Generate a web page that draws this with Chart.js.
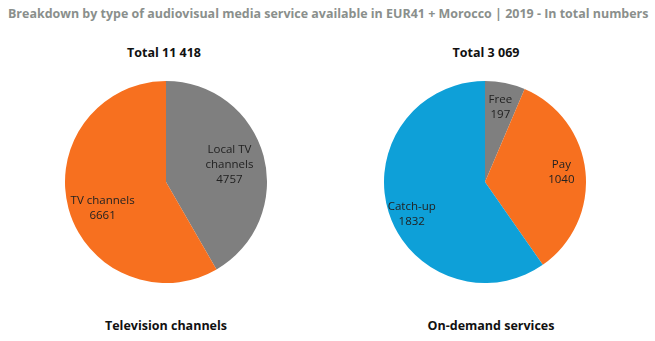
<!DOCTYPE html>
<html>
<head>
<meta charset="utf-8">
<script src="https://cdn.jsdelivr.net/npm/chart.js@4/dist/chart.umd.min.js"></script>
<style>
  body { margin: 0; background: #fff; width: 655px; height: 341px; position: relative; overflow: hidden; }
  .txt { position: absolute; white-space: nowrap; }
  #main-title { left: 8px; top: 4px; font: bold 13px "Open Sans", sans-serif; color: #8a8f8c; transform-origin: 0 0; }
  .total, .caption { font: bold 12.5px "Open Sans", sans-serif; color: #111; transform: translateX(-50%); }
  canvas { position: absolute; }
</style>
</head>
<body>
<div id="main-title" class="txt">Breakdown by type of audiovisual media service available in EUR41 + Morocco | 2019 - In total numbers</div>
<div class="txt total" style="left:164px; top:44px;">Total 11 418</div>
<div class="txt total" style="left:486px; top:44px;">Total 3 069</div>
<div class="txt caption" style="left:166px; top:317px;">Television channels</div>
<div class="txt caption" style="left:491px; top:317px;">On-demand services</div>
<canvas id="tvChart" width="202" height="202" style="left:65px; top:81px;"></canvas>
<canvas id="vodChart" width="202" height="202" style="left:384px; top:81px;"></canvas>

<script>
// Television channels
var tvLabels = [["Local TV", "channels"], ["TV channels"]];
var tvValues = [4757, 6661];
var tvColors = ["#7f7f7f", "#f7701f"];

// On-demand services
var vodLabels = [["Free"], ["Pay"], ["Catch-up"]];
var vodValues = [197, 1040, 1832];
var vodColors = ["#7f7f7f", "#f7701f", "#0ea0d8"];

// squeeze the heading onto one line across the page
var head = document.getElementById("main-title");
head.style.transform = "scaleX(" + (640 / head.offsetWidth) + ")";

// writes name + value inside each slice
var sliceLabels = {
  id: "sliceLabels",
  afterDatasetsDraw: function(chart, args, opts) {
    var ctx = chart.ctx;
    var meta = chart.getDatasetMeta(0);
    var values = chart.data.datasets[0].data;
    ctx.save();
    ctx.font = "11.5px 'Open Sans', sans-serif";
    ctx.fillStyle = "#222";
    ctx.textAlign = "center";
    ctx.textBaseline = "middle";
    meta.data.forEach(function(arc, i) {
      var p = arc.getProps(["x", "y", "startAngle", "endAngle", "outerRadius"], true);
      var mid = (p.startAngle + p.endAngle) / 2;
      var r = p.outerRadius * opts.offset;
      var cx = p.x + Math.cos(mid) * r;
      var cy = p.y + Math.sin(mid) * r + (opts.shiftY[i] || 0);
      var lines = chart.data.labels[i].concat([String(values[i])]);
      var lh = 15;
      var y0 = cy - (lines.length - 1) * lh / 2;
      lines.forEach(function(line, j) {
        ctx.fillText(line, cx, y0 + j * lh);
      });
    });
    ctx.restore();
  }
};

function makePie(id, labels, values, colors, offset, shiftY) {
  return new Chart(document.getElementById(id), {
    type: "pie",
    data: {
      labels: labels,
      datasets: [{
        data: values,
        backgroundColor: colors,
        borderWidth: 0
      }]
    },
    options: {
      responsive: false,
      animation: false,
      layout: { padding: 0 },
      plugins: {
        legend: { display: false },
        tooltip: { enabled: false },
        sliceLabels: { offset: offset, shiftY: shiftY }
      }
    },
    plugins: [sliceLabels]
  });
}

makePie("tvChart", tvLabels, tvValues, tvColors, 0.65, [0, 9]);
makePie("vodChart", vodLabels, vodValues, vodColors, 0.76, [0, -2, 9]);
</script>
</body>
</html>
